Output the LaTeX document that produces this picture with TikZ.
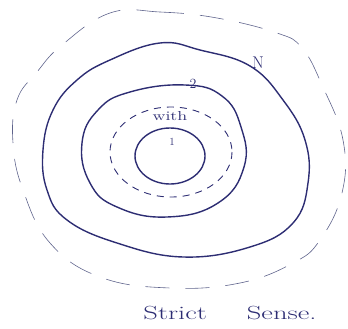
\documentclass[tikz,border=0pt]{standalone}
\definecolor{ink}{RGB}{45,45,115}
\definecolor{faint}{RGB}{95,100,140}
\begin{document}
\begin{tikzpicture}[x=1pt,y=-1pt,
		ring/.style={ink, line width=1.4pt},
		lbl/.style={text=ink, inner sep=1pt}]
	\useasboundingbox (0,0) rectangle (348,329);
	% outer boundary, faint and broken
	\draw[faint, line width=0.6pt, dash pattern=on 24pt off 16pt] plot[smooth cycle, tension=0.7] coordinates {
			(110,13) (160,12) (217,18) (277,33) (302,48) (322,85) (343,140)
			(342,193) (320,240) (293,263) (240,283) (170,288) (100,277)
			(50,243) (23,190) (13,143) (17,100) (37,72) (62,45)};
	% ring N
	\draw[ring] plot[smooth cycle, tension=0.7] coordinates {
			(160,43) (200,50) (250,66) (283,100) (305,140) (308,183) (293,223)
			(250,247) (183,257) (117,243) (67,220) (47,190) (43,150) (53,110)
			(77,80) (110,60)};
	% ring 2
	\draw[ring] plot[smooth cycle, tension=0.75] coordinates {
			(185,85) (222,96) (241,127) (244,167) (218,203) (167,217) (117,207)
			(90,183) (82,143) (98,110) (130,92)};
	% with
	\draw[ink, line width=0.9pt, dash pattern=on 7pt off 6pt] (171,152) ellipse [x radius=61, y radius=45];
	% ring 1
	\draw[ring] (170,156) ellipse [x radius=35, y radius=28];
	\node[lbl, font=\fontsize{17}{20}\selectfont] (n) at (258,63) {N};
	\node[lbl, font=\fontsize{14}{16}\selectfont] (two) at (193,84) {2};
	\node[lbl, font=\fontsize{13}{15}\selectfont, xscale=1.4] (with) at (170,116) {with};
	\node[lbl, font=\fontsize{11}{13}\selectfont] (one) at (172,142) {1};
	\node[lbl, font=\fontsize{19}{22}\selectfont, xscale=1.5] (sense) at (230,313) {Strict\hspace{1.4em}Sense.};
\end{tikzpicture}
\end{document}
